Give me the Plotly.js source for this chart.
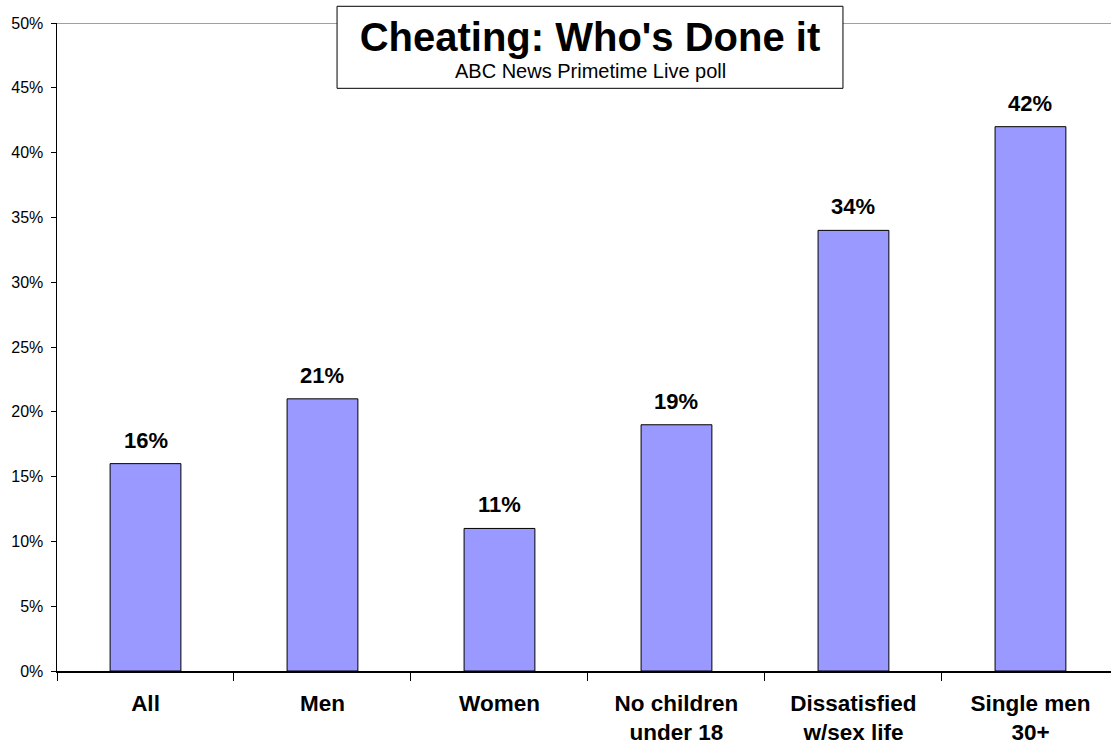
<!DOCTYPE html>
<html>
<head>
<meta charset="utf-8">
<script src="https://cdn.plot.ly/plotly-3.0.1.min.js"></script>
<style>
html,body{margin:0;padding:0;background:#fff;overflow:hidden;}
#chart{width:1111px;height:746px;}
</style>
</head>
<body>
<div id="chart"></div>
<script>
const categories = ["All", "Men", "Women", "No children<br>under 18", "Dissatisfied<br>w/sex life", "Single men<br>30+"];
const values = [0.16, 0.21, 0.11, 0.19, 0.34, 0.42];
const titleText = "Cheating: Who's Done it";
const subtitleText = "ABC News Primetime Live poll";

const FONT = "Arial, 'Liberation Sans', sans-serif";

const trace = {
  type: 'bar',
  x: categories,
  y: values,
  width: 0.4,
  marker: {color: '#9999FF', line: {color: '#000000', width: 1}},
  hoverinfo: 'none'
};

const labelAnnotations = categories.map((c, i) => ({
  x: c, y: values[i], xref: 'x', yref: 'y',
  text: Math.round(values[i] * 100) + '%',
  showarrow: false, yanchor: 'bottom', yshift: 9,
  font: {family: FONT, size: 22, color: '#000', weight: 'bold'}
}));

const subtitleAnnotation = {
  xref: 'paper', yref: 'paper', x: 0.5057, y: 0.9253,
  xanchor: 'center', yanchor: 'middle', showarrow: false,
  text: subtitleText,
  font: {family: FONT, size: 20, color: '#000'}
};

const layout = {
  width: 1111, height: 746,
  margin: {l: 57, r: 0, t: 23, b: 75},
  paper_bgcolor: '#ffffff', plot_bgcolor: '#ffffff',
  showlegend: false,
  font: {family: FONT, color: '#000'},
  title: {
    text: titleText,
    font: {family: FONT, size: 40, color: '#000', weight: 'bold'},
    xref: 'container', x: 0.531, xanchor: 'center',
    yref: 'container', y: 0.9692, yanchor: 'top'
  },
  xaxis: {
    type: 'category',
    range: [-0.5, 5.455],
    tickson: 'boundaries',
    ticks: 'outside', ticklen: 8, tickcolor: '#000', tickwidth: 1,
    showline: true, linecolor: '#000', linewidth: 1.5,
    showgrid: false, zeroline: false,
    tickfont: {family: FONT, size: 22.5, color: '#000', weight: 'bold'},
    ticklabelstandoff: 11,
    fixedrange: true
  },
  yaxis: {
    range: [0, 0.5],
    dtick: 0.05, tickformat: '.0%',
    ticks: 'outside', ticklen: 5, tickcolor: '#000', tickwidth: 1,
    showline: true, linecolor: '#000', linewidth: 1.5,
    showgrid: false, zeroline: false,
    tickfont: {family: FONT, size: 16, color: '#000'},
    ticklabelstandoff: 4,
    fixedrange: true
  },
  shapes: [
    {type: 'line', xref: 'paper', yref: 'y', x0: 0, x1: 1, y0: 0.5, y1: 0.5,
     line: {color: '#808080', width: 1.5}, layer: 'above'},
    {type: 'rect', xref: 'paper', yref: 'paper', x0: 0.2657, x1: 0.7457, y0: 0.8992, y1: 1.0258,
     fillcolor: '#ffffff', line: {color: '#000', width: 1}, layer: 'above'}
  ],
  annotations: labelAnnotations.concat([subtitleAnnotation])
};

Plotly.newPlot('chart', [trace], layout, {displayModeBar: false, staticPlot: true});
</script>
</body>
</html>
